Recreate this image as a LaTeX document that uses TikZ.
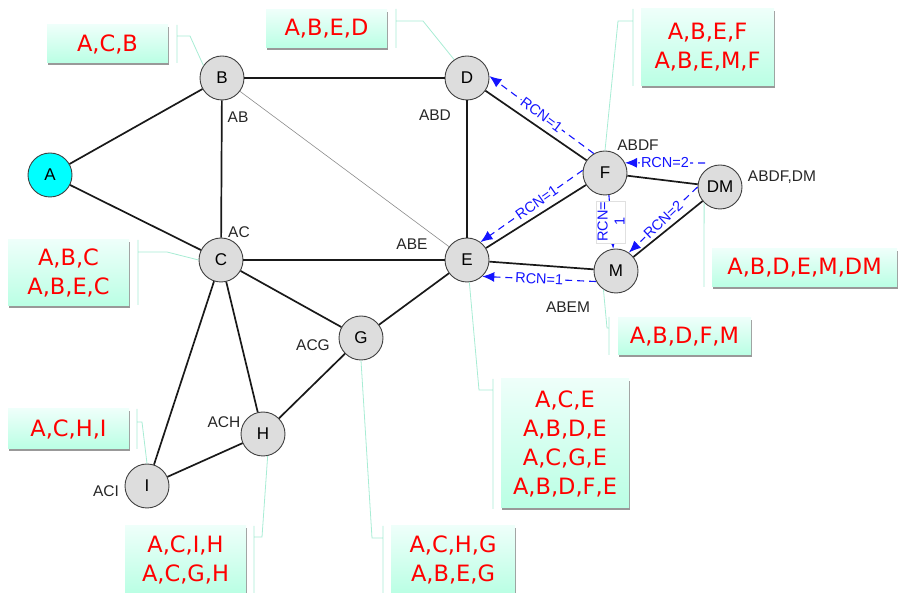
\documentclass[tikz,border=0pt]{standalone}
\usepackage{fontspec}
\setmainfont{Liberation Sans}
\newfontfamily\boxfont{DejaVu Sans}
\usetikzlibrary{arrows.meta,shadows,calc}
\definecolor{mintTop}{RGB}{238,255,250}
\definecolor{mintBot}{RGB}{186,255,228}
\definecolor{leadcol}{RGB}{168,236,212}
\definecolor{nodefill}{RGB}{221,221,221}
\definecolor{nodeedge}{RGB}{64,64,64}
\definecolor{rcnblue}{RGB}{20,20,255}
\definecolor{boxred}{RGB}{255,0,0}
\definecolor{acyan}{RGB}{0,255,255}
\begin{document}
\begin{tikzpicture}[x=1pt,y=-1pt,
 vtx/.style={circle, minimum size=44pt, inner sep=0pt, fill=nodefill, draw=nodeedge, line width=0.9pt, font=\fontsize{17}{17}\selectfont},
 ntag/.style={font=\fontsize{15.5}{15.5}\selectfont, text=black!85, inner sep=0pt},
 link/.style={line width=1.7pt, black!90},
 faintlink/.style={line width=0.6pt, black!45},
 labbox/.style={rectangle, inner sep=0pt, top color=mintTop, bottom color=mintBot, draw=none, text=boxred, font=\boxfont\fontsize{22.5}{29}\selectfont, align=center, drop shadow={shadow xshift=0.8pt, shadow yshift=-2.5pt, fill=black!40, opacity=1}},
 leader/.style={leadcol, line width=0.8pt},
 rcn/.style={rcnblue, line width=1.1pt, dash pattern=on 7pt off 5pt, -{Latex[length=12pt,width=10pt]}},
 rcnlab/.style={fill=white, inner sep=1pt, text=rcnblue, font=\fontsize{14.5}{17}\selectfont}]
\useasboundingbox (0,0) rectangle (898,593);

% label boxes
\node[labbox, minimum width=121pt, minimum height=38pt] (bB) at (107.5,44) {A,C,B};
\node[labbox, minimum width=121pt, minimum height=38pt] (bD) at (326.5,29) {A,B,E,D};
\node[labbox, minimum width=133pt, minimum height=77pt] (bF) at (707.5,47.5) {A,B,E,F\\A,B,E,M,F};
\node[labbox, minimum width=121pt, minimum height=66pt] (bC) at (68.5,273) {A,B,C\\A,B,E,C};
\node[labbox, minimum width=121pt, minimum height=40pt] (bI) at (68.5,429) {A,C,H,I};
\node[labbox, minimum width=121pt, minimum height=67pt] (bH) at (185.5,559.5) {A,C,I,H\\A,C,G,H};
\node[labbox, minimum width=124pt, minimum height=67pt] (bG) at (453,559.5) {A,C,H,G\\A,B,E,G};
\node[labbox, minimum width=128pt, minimum height=129pt] (bE) at (565,443.5) {A,C,E\\A,B,D,E\\A,C,G,E\\A,B,D,F,E};
\node[labbox, minimum width=133pt, minimum height=37pt] (bM) at (684.5,336.5) {A,B,D,F,M};
\node[labbox, minimum width=185pt, minimum height=38pt] (bDM) at (804.5,268) {A,B,D,E,M,DM};

% vertices
\node[vtx, fill=acyan] (A) at (50,175) {A};
\node[vtx] (B) at (222,78) {B};
\node[vtx] (D) at (467,78) {D};
\node[vtx] (C) at (221,260) {C};
\node[vtx] (E) at (467,260) {E};
\node[vtx] (F) at (605,173) {F};
\node[vtx] (DM) at (720,187) {DM};
\node[vtx] (M) at (616,271) {M};
\node[vtx] (G) at (361,338) {G};
\node[vtx] (H) at (263,434) {H};
\node[vtx] (I) at (147,486) {I};

% tags
\node[ntag] (tB) at (238,117) {AB};
\node[ntag] (tD) at (435,115) {ABD};
\node[ntag] (tC) at (239,232) {AC};
\node[ntag] (tE) at (412,244) {ABE};
\node[ntag] (tF) at (638,145) {ABDF};
\node[ntag] (tDM) at (782,177) {ABDF,DM};
\node[ntag] (tM) at (568,307) {ABEM};
\node[ntag] (tG) at (313,345) {ACG};
\node[ntag] (tH) at (224,422) {ACH};
\node[ntag] (tI) at (106,491) {ACI};

% edges
\draw[link] (A) -- (B);
\draw[link] (A) -- (C);
\draw[link] (B) -- (D);
\draw[link] (B) -- (C);
\draw[link] (D) -- (E);
\draw[link] (C) -- (E);
\draw[link] (C) -- (G);
\draw[link] (C) -- (H);
\draw[link] (C) -- (I);
\draw[link] (G) -- (E);
\draw[link] (G) -- (H);
\draw[link] (H) -- (I);
\draw[link] (D) -- (F);
\draw[link] (F) -- (E);
\draw[link] (E) -- (M);
\draw[link] (F) -- (DM);
\draw[link] (DM) -- (M);
\draw[faintlink] (B) -- (E);

% leaders
\draw[leader] (177,25) -- (177,63) (177,36) -- (190,36) -- (B.146);
\draw[leader] (396,9) -- (396,48) (396,21) -- (423,21) -- (D.125);
\draw[leader] (633,9) -- (633,86) (633,21) -- (618,21) -- (F.90);
\draw[leader] (138,240) -- (138,305) (138,252) -- (167,252) -- (C.180);
\draw[leader] (137,409) -- (137,449) (137,422) -- (142,422) -- (I.90);
\draw[leader] (254,526) -- (254,593) (254,537) -- (262,537) -- (H.-78);
\draw[leader] (383,526) -- (383,593) (383,538) -- (372,538) -- (G.-90);
\draw[leader] (493,379) -- (493,509) (493,390) -- (479,390) -- (E.-84);
\draw[leader] (609,317) -- (609,355) (609,328) -- (607,328) -- (M.236);
\draw[leader] (704,287) -- (DM.225);

% RCN arrows
\draw[rcn] (F.120) -- node[rcnlab, sloped] (l1) {RCN=1} (D.5);
\draw[rcn] (F.173) -- node[rcnlab, sloped, pos=0.45] (l2) {RCN=1} (E.53);
\draw[rcn] ($(DM.center)+(-15,-24)$) -- node[rcnlab, sloped] (l3) {RCN=2} (F.27);
\draw[rcn] (M.208) -- node[rcnlab, sloped] (l4) {RCN=1} (E.-47);
\draw[rcn] (F.-80) -- node[rcnlab, rotate=90, align=center, draw=black!12, line width=0.4pt, solid] (l5) {RCN=\\1} (M.97);
\draw[rcn] (DM.180) -- node[rcnlab, sloped] (l6) {RCN=2} (M.55);
\end{tikzpicture}
\end{document}
